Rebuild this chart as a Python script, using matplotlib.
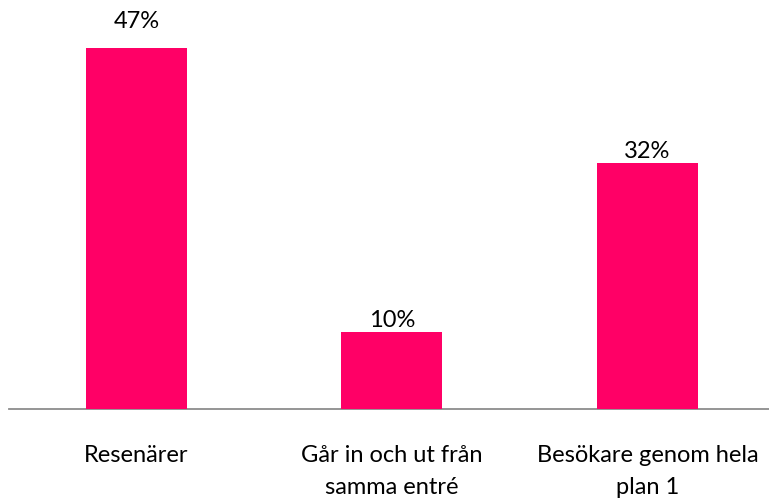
import matplotlib
matplotlib.use("Agg")
import matplotlib.pyplot as plt

categories = ["Resenärer", "Går in och ut från\nsamma entré", "Besökare genom hela\nplan 1"]
values = [47, 10, 32]
value_labels = ["47%", "10%", "32%"]

plt.rcParams['font.family'] = ['Lato', 'DejaVu Sans']

W, H = 769, 501
fig = plt.figure(figsize=(W/100, H/100), dpi=100)
ax = fig.add_axes([9/W, (H-409)/H, (W-9)/W, 409/H])

x = list(range(len(categories)))
bars = ax.bar(x, values, width=0.395, color='#FF0066', zorder=3)
ax.set_xlim(-0.499, 2.476)
ax.set_ylim(0, 53.2)

ymax = max(values)
for xi, v, lab in zip(x, values, value_labels):
    off = 14.4 if v == ymax else 3.8
    ax.annotate(lab, (xi, v), xytext=(0, off), textcoords='offset points',
                ha='center', va='baseline', fontsize=17, color='#000000')

ax.set_xticks(x)
ax.set_xticklabels(categories, fontsize=17, linespacing=1.65)
ax.tick_params(axis='x', length=0, pad=26)
ax.set_yticks([])
for s in ['top', 'right', 'left']:
    ax.spines[s].set_visible(False)
ax.spines['bottom'].set_color('#8C8C8C')
ax.spines['bottom'].set_linewidth(1.3)

fig.savefig('out.png', dpi=100)
